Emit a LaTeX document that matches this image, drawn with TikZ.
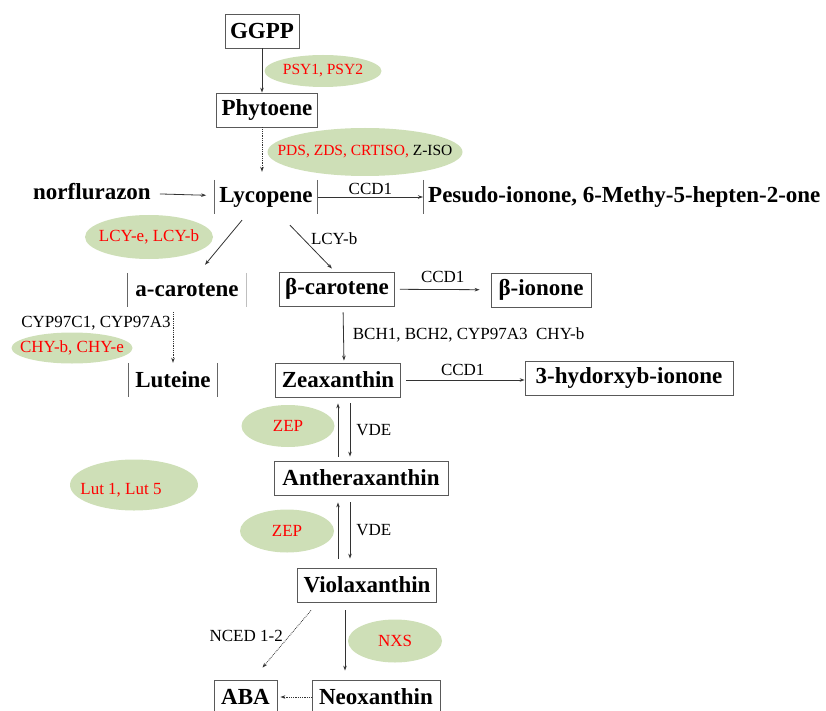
\documentclass[tikz,border=0pt]{standalone}
\usepackage{fontspec}
\setmainfont{Liberation Serif}
\usetikzlibrary{arrows.meta,shapes.geometric,positioning}
\definecolor{enzgreen}{RGB}{206,223,183}
\newcommand{\enz}[1]{\makebox[0pt]{#1}}

\begin{document}
\begin{tikzpicture}[
				x=1pt, y=-1pt,
				arrow/.style={draw=black!80, line width=0.8pt, -{Stealth[length=5pt, width=3.5pt]}},
				dotarrow/.style={arrow, densely dotted},
				compound/.style={font=\fontsize{23}{27}\selectfont\bfseries, inner xsep=5pt, minimum height=34pt},
				block/.style={compound, draw=black!65, line width=0.8pt},
				bar/.style={draw=black!60, line width=0.8pt},
				enzyme/.style={ellipse, fill=enzgreen, text=red, font=\fontsize{17}{20}\selectfont, inner sep=0pt},
				smallenzyme/.style={enzyme, font=\fontsize{15.5}{18}\selectfont},
				note/.style={font=\fontsize{17}{20}\selectfont, inner sep=2pt},
			]
				\useasboundingbox (0,0) rectangle (826,711);

				\node[block, minimum width=72pt] (ggpp) at (262,31) {GGPP};
				\node[smallenzyme, minimum width=117pt, minimum height=32pt] (psy) at (323,71) {\enz{PSY1, PSY2}};
				\node[block, minimum width=100pt] (phytoene) at (267,110) {Phytoene};
				\node[smallenzyme, text=black, minimum width=195pt, minimum height=48pt] (pds) at (365,152) {\enz{\textcolor{red}{PDS, ZDS, CRTISO,} Z-ISO}};
				\node[compound, minimum width=102pt] (lycopene) at (266,197) {Lycopene};
				\node[compound, anchor=west] (norflurazon) at (28,192) {norflurazon};
				\node[compound, anchor=west] (pesudo) at (423,197) {Pesudo-ionone, 6-Methy-5-hepten-2-one};

				\node[enzyme, minimum width=128pt, minimum height=44pt] (lcy) at (149,237) {\enz{LCY-e, LCY-b}};
				\node[compound, minimum width=118pt] (acarotene) at (187,290) {a-carotene};
				\node[block, minimum width=115pt] (bcarotene) at (337,289) {β-carotene};
				\node[block, minimum width=100pt] (bionone) at (541,290) {β-ionone};

				\node[note] (cyp) at (96,323) {CYP97C1, CYP97A3};
				\node[enzyme, minimum width=121pt, minimum height=31pt] (chy) at (72,348) {\enz{CHY-b, CHY-e}};
				\node[compound, minimum width=88pt] (luteine) at (173,380) {Luteine};
				\node[block, minimum width=125pt] (zeaxanthin) at (338,380) {Zeaxanthin};
				\node[block, minimum width=208pt] (hydroxy) at (629,378) {3-hydorxyb-ionone};

				\node[enzyme, minimum width=93pt, minimum height=42pt] (zepone) at (288,426) {\enz{ZEP}};
				\node[block, minimum width=174pt] (antheraxanthin) at (361,478) {Antheraxanthin};
				\node[enzyme, minimum width=128pt, minimum height=51pt] (lut) at (134,485) {\enz{\raisebox{-9pt}[0pt][0pt]{\hspace*{-26pt}Lut 1, Lut 5}}};
				\node[enzyme, minimum width=94pt, minimum height=43pt] (zeptwo) at (287,531) {\enz{ZEP}};
				\node[block, minimum width=139pt] (violaxanthin) at (367,585) {Violaxanthin};
				\node[enzyme, minimum width=94pt, minimum height=43pt] (nxs) at (395,641) {\enz{NXS}};
				\node[block, minimum width=63pt] (aba) at (245.5,697) {ABA};
				\node[block, minimum width=128pt] (neoxanthin) at (376,697) {Neoxanthin};

				\draw[bar] (lycopene.north west) -- (lycopene.south west);
				\draw[bar] (lycopene.north east) -- (lycopene.south east);
				\draw[bar] (pesudo.north west) -- (pesudo.south west);
				\draw[bar] (acarotene.north west) -- (acarotene.south west);
				\draw[bar, draw=black!25] (acarotene.north east) -- (acarotene.south east);
				\draw[bar] (luteine.north west) -- (luteine.south west);
				\draw[bar] (luteine.north east) -- (luteine.south east);

				\draw[arrow] (ggpp) -- (phytoene.north -| ggpp);
				\draw[dotarrow] (phytoene.south -| ggpp) -- ([yshift=8pt]lycopene.north -| ggpp);
				\draw[arrow, shorten <=4pt, shorten >=8pt] (norflurazon) -- (lycopene);
				\draw[arrow] (lycopene) -- node[note, above] {CCD1} (pesudo);

				\draw[arrow] ([xshift=-24pt, yshift=-6pt]lycopene.south) -- ([xshift=18pt, yshift=8pt]acarotene.north);
				\draw[arrow] ([xshift=24pt, yshift=-11pt]lycopene.south) -- node[note, pos=0.3, right=6pt] {LCY-b} ([xshift=-5pt, yshift=3pt]bcarotene.north);
				\draw[arrow, shorten <=5pt, shorten >=11pt] (bcarotene) -- node[note, above=4pt] {CCD1} (bionone);

				\draw[dotarrow, shorten <=5pt] (acarotene.south -| luteine) -- (luteine);
				\draw[arrow, shorten <=6pt, shorten >=2pt] ([xshift=6pt]bcarotene.south) -- node[note, right=7pt] {BCH1, BCH2, CYP97A3\ \ CHY-b} ([xshift=6pt]zeaxanthin.north);
				\draw[arrow, shorten <=5pt] (zeaxanthin) -- node[note, above=2pt] {CCD1} (zeaxanthin -| hydroxy.west);

				\draw[arrow] ([xshift=-23pt, yshift=4pt]antheraxanthin.north) -- ([yshift=-6pt]zeaxanthin.south);
				\draw[arrow] ([xshift=12pt, yshift=-6pt]zeaxanthin.south) -- node[note, right=4pt] {VDE} ([xshift=-11pt, yshift=4pt]antheraxanthin.north);
				\draw[arrow] ([xshift=-29pt, yshift=9pt]violaxanthin.north) -- ([xshift=-23pt, yshift=-7pt]antheraxanthin.south);
				\draw[arrow] ([xshift=-11pt, yshift=-7pt]antheraxanthin.south) -- node[note, right=4pt] {VDE} ([xshift=-17pt, yshift=9pt]violaxanthin.north);

				\draw[dotarrow] ([xshift=-56pt, yshift=-8pt]violaxanthin.south) -- node[note, pos=0.45, left=4pt] {NCED 1-2} ([xshift=17pt, yshift=12pt]aba.north);
				\draw[arrow] ([xshift=-22pt, yshift=-8pt]violaxanthin.south) -- ([xshift=-31pt, yshift=9pt]neoxanthin.north);
				\draw[dotarrow, shorten >=3pt] (neoxanthin) -- (aba);
			\end{tikzpicture}
\end{document}
